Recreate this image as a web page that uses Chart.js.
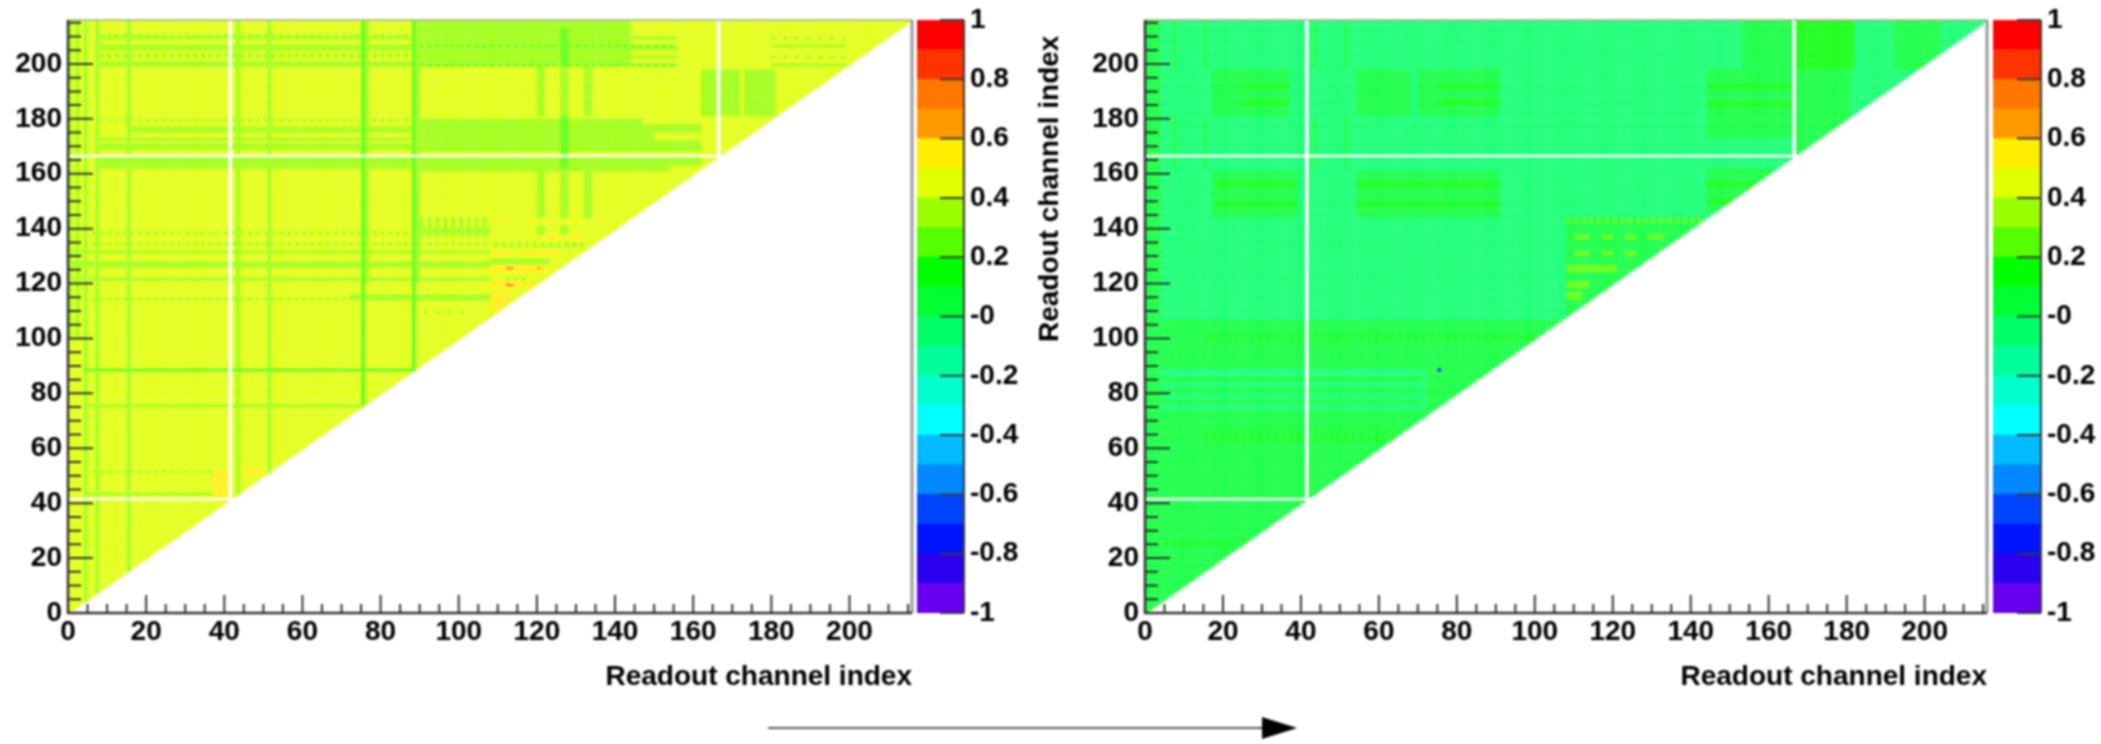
<!DOCTYPE html>
<html>
<head>
<meta charset="utf-8">
<title>Readout channel correlation</title>
<script src="https://cdn.jsdelivr.net/npm/chart.js@4"></script>
<style>
    html, body { margin: 0; padding: 0; background: #fff; }
    #page { position: relative; width: 2101px; height: 744px; overflow: hidden; filter: blur(0.8px); }
    canvas, svg { position: absolute; top: 0; }
</style>
</head>
<body>
<div id="page">
    <canvas id="heatLeft" width="915" height="744" style="left:0"></canvas>
    <canvas id="barLeft" width="115" height="744" style="left:915px"></canvas>
    <canvas id="heatRight" width="960" height="744" style="left:1030px"></canvas>
    <canvas id="barRight" width="111" height="744" style="left:1990px"></canvas>
    <svg width="2101" height="744">
        <line x1="768" y1="728" x2="1264" y2="728" stroke="#555" stroke-width="2"></line>
        <polygon points="1262,717 1297,728 1262,739" fill="#000"></polygon>
    </svg>
</div>
<script>
const channelCount = 216;
const deadChannels = [41, 166];
const channelTicks = [5, 10, 15, 20, 25, 30, 35, 40, 45, 50, 55, 60, 65, 70, 75, 80, 85, 90, 95, 100, 105, 110, 115, 120, 125, 130, 135, 140, 145, 150, 155, 160, 165, 170, 175, 180, 185, 190, 195, 200, 205, 210, 215, 0];
const channelLabels = [0, 20, 40, 60, 80, 100, 120, 140, 160, 180, 200];
const axisTitle = 'Readout channel index';

// colour scale, bottom to top
const levelEdges = [-1, -0.9, -0.8, -0.7, -0.6, -0.5, -0.4, -0.3, -0.2, -0.1, 0, 0.1, 0.2, 0.3, 0.4, 0.5, 0.6, 0.7, 0.8, 0.9, 1];
const levelColors = ['#6600ee', '#2a00ee', '#0014ff', '#0044ff', '#0088ff', '#00bbff', '#00ffff', '#00ffcc', '#00ff99', '#00ff66', '#00ff33', '#00ff00', '#55ff00', '#99ff00', '#e0ff00', '#ffee00', '#ff9900', '#ff7700', '#ff3300', '#ff0000'];
const barTicks = [-1, -0.8, -0.6, -0.4, -0.2, 0, 0.2, 0.4, 0.6, 0.8, 1];
const barTickLabels = ['-1', '-0.8', '-0.6', '-0.4', '-0.2', '-0', '0.2', '0.4', '0.6', '0.8', '1'];

// blocks, later ones on top: [x from, x to, y from, y to, value, stride along x]
const leftBase = 0.45;
const leftBlocks = [
    [0, 3, 100, 215, 0.35, 2],
    [88, 143, 199, 215, 0.35], [144, 155, 209, 209, 0.35], [144, 155, 205, 206, 0.35], [144, 155, 202, 202, 0.35], [144, 155, 199, 199, 0.35],
    [88, 155, 199, 199, 0.25, 2], [88, 155, 206, 206, 0.25, 2],
    [8, 87, 209, 209, 0.35], [8, 87, 210, 210, 0.35, 2], [8, 87, 205, 206, 0.35], [8, 87, 202, 203, 0.35, 2], [8, 87, 199, 200, 0.35],
    [180, 198, 209, 209, 0.35, 3], [180, 198, 206, 206, 0.35], [180, 198, 202, 202, 0.35, 3], [180, 198, 199, 199, 0.35],
    [120, 121, 181, 198, 0.35], [126, 127, 181, 198, 0.35], [132, 133, 181, 198, 0.35],
    [120, 121, 144, 161, 0.35], [126, 127, 144, 161, 0.35], [132, 133, 144, 161, 0.35],
    [162, 165, 181, 197, 0.35], [167, 171, 181, 197, 0.35], [173, 180, 181, 197, 0.35],
    [88, 146, 178, 179, 0.35], [88, 161, 175, 177, 0.35], [88, 149, 172, 174, 0.35], [88, 161, 168, 171, 0.35], [88, 161, 163, 165, 0.35], [88, 153, 161, 162, 0.35],
    [8, 87, 179, 179, 0.35, 2], [15, 87, 175, 176, 0.35], [8, 87, 172, 172, 0.35], [8, 87, 169, 170, 0.35], [8, 87, 164, 165, 0.35], [8, 87, 162, 163, 0.35],
    [126, 127, 162, 180, 0.25], [126, 127, 199, 212, 0.25],
    [4, 88, 138, 138, 0.35, 2], [88, 107, 137, 143, 0.35, 2], [88, 107, 138, 139, 0.35], [4, 107, 134, 134, 0.35, 2],
    [0, 107, 131, 131, 0.35], [0, 107, 126, 127, 0.35], [0, 107, 121, 121, 0.35],
    [4, 71, 114, 114, 0.35, 2], [72, 107, 114, 115, 0.35], [88, 100, 109, 109, 0.35, 3],
    [4, 39, 51, 51, 0.35, 2], [4, 40, 43, 43, 0.35],
    [109, 112, 142, 142, 0.55], [117, 119, 142, 142, 0.55], [122, 125, 142, 142, 0.55], [128, 130, 142, 142, 0.55], [135, 138, 142, 142, 0.55],
    [122, 125, 136, 137, 0.55], [128, 131, 136, 137, 0.55],
    [108, 113, 130, 131, 0.55], [116, 120, 130, 131, 0.55], [122, 125, 130, 131, 0.55],
    [108, 122, 124, 126, 0.55], [108, 118, 118, 120, 0.55], [108, 112, 109, 116, 0.55],
    [112, 113, 125, 125, 0.75], [112, 113, 119, 119, 0.75], [120, 120, 125, 125, 0.65],
    [109, 131, 133, 134, 0.35, 2], [108, 122, 127, 128, 0.35], [112, 116, 121, 121, 0.35, 2],
    [120, 121, 138, 140, 0.35], [126, 127, 138, 140, 0.35],
    [37, 40, 42, 51, 0.55], [45, 49, 50, 52, 0.55], [73, 79, 85, 85, 0.55, 2],
    [4, 4, 4, 215, 0.35], [7, 7, 7, 215, 0.35], [15, 15, 15, 215, 0.35], [43, 43, 43, 215, 0.35], [51, 51, 51, 215, 0.35],
    [75, 75, 75, 215, 0.25], [76, 76, 120, 215, 0.35], [88, 88, 88, 215, 0.25], [89, 89, 120, 215, 0.35],
    [4, 88, 88, 88, 0.25], [4, 75, 75, 75, 0.35]
];

const rightBase = -0.05;
const rightBlocks = [
    [0, 215, 0, 73, 0.05], [0, 215, 89, 106, 0.05], [72, 88, 74, 88, 0.05],
    [0, 70, 76, 77, 0.05], [0, 70, 80, 81, 0.05], [0, 70, 84, 85, 0.05],
    [15, 107, 99, 101, 0.15, 2], [15, 100, 62, 66, 0.15, 2], [5, 60, 24, 26, 0.15, 2],
    [108, 145, 108, 143, 0.05],
    [108, 145, 142, 143, 0.25, 2],
    [110, 113, 136, 137, 0.25], [117, 119, 136, 137, 0.25], [123, 125, 136, 137, 0.25], [129, 132, 136, 137, 0.25],
    [110, 113, 130, 131, 0.25], [117, 119, 130, 131, 0.25], [123, 125, 130, 131, 0.25],
    [108, 120, 124, 126, 0.25], [108, 113, 118, 120, 0.25], [108, 111, 114, 116, 0.25],
    [144, 165, 146, 161, 0.05], [144, 165, 149, 150, 0.15], [144, 165, 155, 156, 0.15], [144, 166, 173, 197, 0.05], [144, 166, 184, 185, 0.15], [144, 166, 191, 192, 0.15],
    [153, 165, 198, 215, 0.05], [167, 181, 198, 215, 0.15], [167, 180, 167, 197, 0.05], [192, 203, 198, 215, 0.05],
    [17, 36, 181, 197, 0.05], [54, 67, 181, 197, 0.05], [70, 90, 181, 197, 0.05], [17, 38, 144, 160, 0.05], [54, 90, 144, 160, 0.05],
    [25, 36, 185, 186, 0.15], [25, 36, 191, 192, 0.15], [75, 90, 185, 186, 0.15], [75, 90, 191, 192, 0.15],
    [18, 38, 148, 149, 0.15], [18, 38, 155, 156, 0.15], [54, 90, 148, 149, 0.15], [54, 90, 155, 156, 0.15],
    [7, 7, 198, 215, 0.05], [15, 15, 198, 215, 0.05], [43, 43, 198, 215, 0.05], [51, 51, 198, 215, 0.05],
    [7, 7, 162, 180, 0.05], [15, 15, 162, 180, 0.05], [43, 43, 162, 180, 0.05], [51, 51, 162, 180, 0.05],
    [0, 3, 0, 215, 0.05],
    [75, 75, 88, 88, -0.75]
];

const tickFont = { family: '"Liberation Sans"', size: 28, weight: 'bold', lineHeight: 1 };
const titleFont = { family: '"Liberation Sans"', size: 28, weight: 'bold', lineHeight: 1 };

function levelOf(value) {
    let i = 0;
    while (i < levelColors.length - 1 && value >= levelEdges[i + 1]) i++;
    return i;
}

// one small rectangle per colour, a bit smaller than the cell pitch
function cellSprite(color) {
    const c = document.createElement('canvas');
    c.width = 6;
    c.height = 4;
    const g = c.getContext('2d');
    g.fillStyle = color;
    g.fillRect(1.1, 0.6, 3.8, 2.8);
    return c;
}

function matrixDatasets(base, blocks) {
    const grid = [];
    for (let y = 0; y < channelCount; y++) grid.push(new Array(channelCount).fill(base));
    blocks.forEach(b => {
        const stride = b[5] || 1;
        for (let y = b[2]; y <= b[3]; y++) {
            for (let x = b[0]; x <= b[1]; x += stride) grid[y][x] = b[4];
        }
    });
    const perLevel = levelColors.map(() => []);
    for (let y = 0; y < channelCount; y++) {
        for (let x = 0; x <= y; x++) {
            if (deadChannels.includes(x) || deadChannels.includes(y)) continue;
            perLevel[levelOf(grid[y][x])].push({ x: x + 0.5, y: y + 0.5 });
        }
    }
    return levelColors.map((color, i) => ({
        data: perLevel[i],
        pointStyle: cellSprite(color),
        pointRadius: 2,
        pointHoverRadius: 2,
        showLine: false,
    }));
}

// ROOT style frame and ticks, inside the plot
const rootFrame = {
    id: 'rootFrame',
    afterDatasetsDraw(chart) {
        const ctx = chart.ctx;
        const a = chart.chartArea;
        const sx = chart.scales.x;
        const sy = chart.scales.y;
        ctx.save();
        ctx.strokeStyle = '#a8b08a';
        ctx.lineWidth = 1.5;
        ctx.beginPath();
        ctx.moveTo(a.left, a.top);
        ctx.lineTo(a.right, a.top);
        ctx.stroke();
        ctx.strokeStyle = '#999';
        ctx.lineWidth = 3;
        ctx.beginPath();
        ctx.moveTo(a.right, a.top);
        ctx.lineTo(a.right, a.bottom);
        ctx.stroke();
        ctx.strokeStyle = '#333';
        ctx.lineWidth = 2.5;
        ctx.beginPath();
        ctx.moveTo(a.left, a.top);
        ctx.lineTo(a.left, a.bottom);
        ctx.lineTo(a.right, a.bottom);
        ctx.stroke();
        ctx.lineWidth = 2;
        ctx.beginPath();
        channelTicks.forEach(v => {
            const major = channelLabels.includes(v);
            const px = sx.getPixelForValue(v);
            const py = sy.getPixelForValue(v);
            ctx.moveTo(px, a.bottom);
            ctx.lineTo(px, a.bottom - (major ? 18 : 9));
            ctx.moveTo(a.left, py);
            ctx.lineTo(a.left + (major ? 25 : 13), py);
        });
        ctx.stroke();
        ctx.restore();
    },
};

const barFrame = {
    id: 'barFrame',
    afterDatasetsDraw(chart) {
        const ctx = chart.ctx;
        const a = chart.chartArea;
        const sy = chart.scales.y;
        ctx.save();
        ctx.strokeStyle = '#3a3a3a';
        ctx.lineWidth = 2;
        ctx.beginPath();
        ctx.moveTo(a.right, a.top);
        ctx.lineTo(a.right, a.bottom);
        barTicks.forEach(v => {
            ctx.moveTo(a.right, sy.getPixelForValue(v));
            ctx.lineTo(a.right - 24, sy.getPixelForValue(v));
        });
        ctx.stroke();
        ctx.restore();
    },
};

function channelTickLabel(value) {
    return channelLabels.includes(value) ? String(value) : '';
}

function heatChart(id, base, blocks, yWidth, yTitle) {
    return new Chart(document.getElementById(id), {
        type: 'scatter',
        data: { datasets: matrixDatasets(base, blocks) },
        plugins: [rootFrame],
        options: {
            responsive: false,
            animation: false,
            parsing: false,
            normalized: true,
            events: [],
            layout: { padding: { top: 14, right: 2, bottom: 0, left: 0 } },
            plugins: { legend: { display: false }, tooltip: { enabled: false } },
            scales: {
                x: {
                    type: 'linear',
                    min: 0,
                    max: channelCount,
                    afterBuildTicks: s => { s.ticks = channelTicks.map(v => ({ value: v })); },
                    afterFit: s => { s.height = 131; },
                    grid: { display: false, drawTicks: false },
                    border: { display: false },
                    ticks: { autoSkip: false, maxRotation: 0, padding: 5, color: '#000', font: tickFont, callback: channelTickLabel },
                    title: { display: true, text: axisTitle, align: 'end', color: '#000', font: titleFont, padding: { top: 0, bottom: 53 } },
                },
                y: {
                    type: 'linear',
                    min: 0,
                    max: channelCount,
                    afterBuildTicks: s => { s.ticks = channelTicks.map(v => ({ value: v })); },
                    afterFit: s => { s.width = yWidth; },
                    grid: { display: false, drawTicks: false },
                    border: { display: false },
                    ticks: { autoSkip: false, padding: 6, color: '#000', font: tickFont, callback: channelTickLabel },
                    title: yTitle ? { display: true, text: yTitle, align: 'end', color: '#000', font: titleFont, padding: { top: 6, bottom: 0 } } : { display: false },
                },
            },
        },
    });
}

function colorBar(id, left, yWidth) {
    return new Chart(document.getElementById(id), {
        type: 'bar',
        data: {
            labels: [''],
            datasets: levelColors.map((color, i) => ({
                data: [[levelEdges[i], levelEdges[i + 1]]],
                backgroundColor: color,
                borderWidth: 0,
                grouped: false,
                barPercentage: 1,
                categoryPercentage: 1,
            })),
        },
        plugins: [barFrame],
        options: {
            responsive: false,
            animation: false,
            events: [],
            layout: { padding: { top: 14, right: 0, bottom: 131, left: left } },
            plugins: { legend: { display: false }, tooltip: { enabled: false } },
            scales: {
                x: { display: false },
                y: {
                    position: 'right',
                    min: -1,
                    max: 1,
                    afterBuildTicks: s => { s.ticks = barTicks.map(v => ({ value: v })); },
                    afterFit: s => { s.width = yWidth; },
                    grid: { display: false, drawTicks: false },
                    border: { display: false },
                    ticks: {
                        autoSkip: false,
                        padding: 6,
                        color: '#000',
                        font: tickFont,
                        callback: value => barTickLabels[barTicks.indexOf(value)],
                    },
                },
            },
        },
    });
}

heatChart('heatLeft', leftBase, leftBlocks, 68, null);
heatChart('heatRight', rightBase, rightBlocks, 115, axisTitle + '\u00a0\u00a0');
colorBar('barLeft', 2, 66);
colorBar('barRight', 3, 60);
</script>
</body>
</html>
